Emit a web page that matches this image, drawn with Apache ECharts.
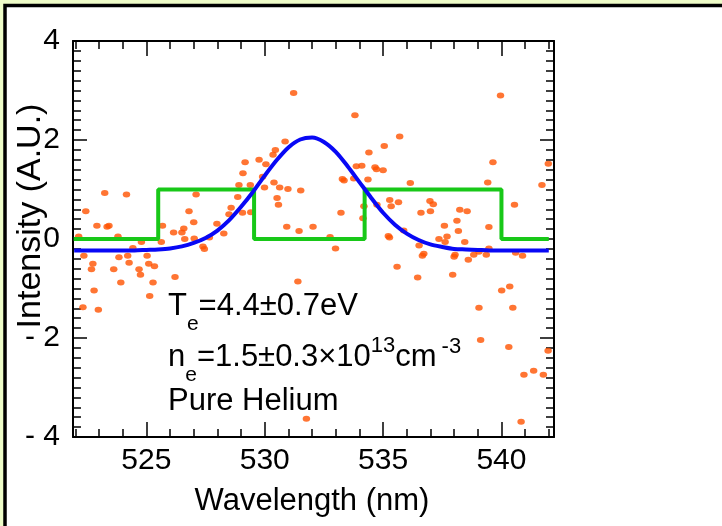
<!DOCTYPE html>
<html><head><meta charset="utf-8">
<script src="https://cdn.jsdelivr.net/npm/echarts@6/dist/echarts.min.js"></script>
<style>html,body{margin:0;padding:0;background:#eefcc8;}#c{width:722px;height:526px;}</style>
</head><body><div id="c"></div>
<script>
// measured points (wavelength nm, intensity A.U.)
const dataX = [
522.14,522.44,523.24,524.16,522.91,523.34,523.42,523.80,524.79,524.43,
522.36,522.74,522.68,523.84,524.21,524.27,523.62,524.69,524.75,525.03,
525.10,525.34,523.92,522.79,525.28,525.14,522.32,522.97,526.21,525.68,
525.63,526.15,526.50,526.58,526.62,526.80,527.00,527.10,527.02,
531.22,530.86,530.45,530.35,529.76,530.05,529.17,529.08,529.91,528.91,
529.39,530.39,529.99,530.63,530.98,531.52,528.86,530.52,530.58,528.58,
528.49,529.06,529.41,527.98,528.27,527.66,527.39,527.45,530.93,531.45,
532.04,531.40,531.76,
533.81,535.70,535.05,534.40,533.87,534.10,534.66,534.72,535.00,533.28,
533.35,533.76,534.36,536.15,535.28,535.65,535.34,534.74,534.19,536.60,
537.00,533.22,534.15,535.87,535.22,535.27,532.76,532.99,536.52,536.66,
536.72,535.59,536.46,
539.96,539.64,541.98,539.42,541.71,536.98,537.12,540.55,538.24,538.55,
537.59,538.12,539.47,538.18,537.36,537.70,537.62,538.45,539.47,538.04,
538.00,538.60,538.83,539.05,539.36,540.60,540.89,537.94,539.05,540.01,
540.35,540.48,539.12,540.31,541.97,540.95,541.36,541.77,540.83
];
const dataY = [
0.05,0.56,0.93,0.90,0.27,0.25,0.27,0.05,-0.06,-0.18,
-0.34,-0.50,-0.61,-0.37,-0.34,-0.48,-0.61,-0.61,-0.72,-0.34,
-0.50,-0.55,-0.88,-1.04,-0.88,-1.15,-1.38,-1.43,-0.77,0.27,
-0.06,0.13,0.13,0.21,0.00,0.56,0.34,0.90,0.01,
2.95,1.97,1.80,1.70,1.60,1.51,1.55,1.33,1.26,1.09,
1.09,1.14,1.04,1.04,1.01,0.98,0.85,0.83,0.69,0.63,
0.50,0.53,0.54,0.31,0.11,0.03,-0.15,-0.20,0.25,0.16,
0.25,-0.86,-3.63,
2.50,2.07,1.88,1.75,1.47,1.48,1.45,1.41,1.39,1.21,
1.18,1.22,1.20,1.13,0.79,0.74,0.66,0.69,0.66,0.53,
0.56,0.53,0.42,0.17,0.06,0.03,0.04,-0.19,-0.13,-0.34,
-0.30,-0.56,-0.78,
2.90,1.55,1.52,1.14,1.09,0.77,0.70,0.69,0.59,0.56,
0.27,0.37,0.24,0.16,0.00,0.05,-0.06,-0.06,-0.19,-0.32,
-0.36,-0.42,-0.32,-0.26,-0.32,-0.28,-0.34,-0.72,-1.39,-1.04,
-0.96,-1.39,-2.04,-2.18,-2.26,-2.74,-2.66,-2.74,-3.69
];
// fitted profile (blue)
const fitX = [521.95,522.5,523,523.5,524,524.5,525,525.5,526,526.5,527,527.5,528,528.5,529,529.5,530,530.5,531,531.5,532,532.5,533,533.5,534,534.5,535,535.5,536,536.5,537,537.5,538,538.5,539,539.5,540,540.5,541,541.5,542];
const fitY = [-0.23,-0.23,-0.23,-0.23,-0.23,-0.23,-0.22,-0.21,-0.19,-0.15,-0.08,0.02,0.17,0.38,0.65,0.95,1.28,1.59,1.85,2.01,2.05,1.96,1.76,1.47,1.15,0.83,0.53,0.29,0.11,-0.02,-0.11,-0.16,-0.20,-0.21,-0.22,-0.23,-0.23,-0.23,-0.23,-0.23,-0.23];
// filter window (green), step breakpoints
const winX = [521.93,525.5,529.55,534.22,540.0,542.0];
const winY = [0,1,0,1,0,0];
// ticks
const xLabelTicks = [525,530,535,540];
const xMinorTicks = [522,523,524,525,526,527,528,529,530,531,532,533,534,535,536,537,538,539,540,541,542];
const yLabelTicks = [-4,-2,0,2,4];
const yMajorTicks = [-2,0,2];
const yMinorTicks = [];
for (let i = -20; i <= 20; i++) yMinorTicks.push(+(i * 0.2).toFixed(1));

const FONT = '"Liberation Sans", Arial, Helvetica, sans-serif';
const X_MIN = 521.9, X_MAX = 542.22, Y_MIN = -4, Y_MAX = 4;

function xAx(position, ticks, len, showLine, labels) {
  return {
    type: 'value', position: position, min: X_MIN, max: X_MAX,
    axisLine: { show: showLine, onZero: false, lineStyle: { color: '#000', width: 2 } },
    axisTick: { show: true, inside: true, length: len, customValues: ticks, lineStyle: { color: '#000', width: 1.5 } },
    axisLabel: labels ? { show: true, customValues: labels, margin: 9, color: '#000', fontSize: 30, fontFamily: FONT } : { show: false },
    splitLine: { show: false }
  };
}
function yAx(position, ticks, len, showLine, labels) {
  return {
    type: 'value', position: position, min: Y_MIN, max: Y_MAX,
    axisLine: { show: showLine, onZero: false, lineStyle: { color: '#000', width: 2 } },
    axisTick: { show: true, inside: true, length: len, customValues: ticks, lineStyle: { color: '#000', width: 1.5 } },
    axisLabel: labels ? { show: true, customValues: labels, margin: 13, color: '#000', fontSize: 30, fontFamily: FONT,
      formatter: v => (v < 0 ? '- ' + Math.abs(v) : String(v)) } : { show: false },
    splitLine: { show: false }
  };
}

const scatterData = dataX.map((x, i) => [x, dataY[i]]);
const fitData = fitX.map((x, i) => [x, fitY[i]]);
const winData = winX.map((x, i) => [x, winY[i]]);

const mainRich = { fontSize: 31, lineHeight: 36, verticalAlign: 'top', fontFamily: FONT, fill: '#000' };
const subRich = { fontSize: 21, lineHeight: 20, verticalAlign: 'top', padding: [23, 0, 0, 0], fontFamily: FONT, fill: '#000' };
const mainRich2 = { fontSize: 31, lineHeight: 36, verticalAlign: 'top', padding: [7, 0, 0, 0], fontFamily: FONT, fill: '#000' };
const subRich2 = { fontSize: 21, lineHeight: 20, verticalAlign: 'top', padding: [30, 0, 0, 0], fontFamily: FONT, fill: '#000' };
const supRich = { fontSize: 22, verticalAlign: 'top', fontFamily: FONT, fill: '#000' };
const supRich2 = { fontSize: 22, verticalAlign: 'top', padding: [1, 0, 0, 5], fontFamily: FONT, fill: '#000' };

const chart = echarts.init(document.getElementById('c'), null, { renderer: 'canvas' });
chart.setOption({
  backgroundColor: 'transparent',
  animation: false,
  grid: { left: 73, top: 41, width: 481, height: 396, containLabel: false },
  xAxis: [
    xAx('bottom', xMinorTicks, 8, true, xLabelTicks),
    xAx('bottom', xLabelTicks, 15, false, null),
    xAx('top', xMinorTicks, 8, true, null),
    xAx('top', xLabelTicks, 15, false, null)
  ],
  yAxis: [
    yAx('left', yMinorTicks, 8, true, yLabelTicks),
    yAx('left', yMajorTicks, 14, false, null),
    yAx('right', yMinorTicks, 8, true, null),
    yAx('right', yMajorTicks, 14, false, null)
  ],
  graphic: [
    { type: 'rect', z: -10, silent: true, shape: { x: 5, y: 5.5, width: 760, height: 560 },
      style: { fill: '#ffffff', stroke: '#000000', lineWidth: 3.5 } },
    { type: 'text', z: 10, x: 31, y: 216, rotation: Math.PI / 2,
      style: { text: 'Intensity (A.U.)', font: '34px ' + FONT, fill: '#000', align: 'center', verticalAlign: 'middle' } },
    { type: 'text', z: 10, x: 312, y: 501,
      style: { text: 'Wavelength (nm)', font: '31px ' + FONT, fill: '#000', align: 'center', verticalAlign: 'middle' } },
    { type: 'text', z: 10, x: 168, y: 291,
      style: { text: '{m|T}{s|e}{m|=4.4\u00b10.7eV}', fill: '#000', align: 'left', verticalAlign: 'top',
        rich: { m: mainRich, s: subRich } } },
    { type: 'text', z: 10, x: 168, y: 335,
      style: { text: '{m|n}{s|e}{m|=1.5\u00b10.3\u00d710}{p|13}{m|cm}{q|-3}', fill: '#000', align: 'left', verticalAlign: 'top',
        rich: { m: mainRich2, s: subRich2, p: supRich, q: supRich2 } } },
    { type: 'text', z: 10, x: 168, y: 386,
      style: { text: '{m|Pure Helium}', fill: '#000', align: 'left', verticalAlign: 'top',
        rich: { m: mainRich } } }
  ],
  series: [
    { type: 'scatter', xAxisIndex: 0, yAxisIndex: 0, data: scatterData, symbol: 'circle', symbolSize: [7.5, 6],
      itemStyle: { color: '#ff5200' }, z: 2, silent: true },
    { type: 'line', xAxisIndex: 0, yAxisIndex: 0, data: winData, step: 'end', showSymbol: false,
      lineStyle: { color: '#18c818', width: 4 }, z: 3, silent: true },
    { type: 'line', xAxisIndex: 0, yAxisIndex: 0, data: fitData, smooth: 0.3, showSymbol: false,
      lineStyle: { color: '#0808f5', width: 4 }, z: 4, silent: true }
  ]
});
</script></body></html>
